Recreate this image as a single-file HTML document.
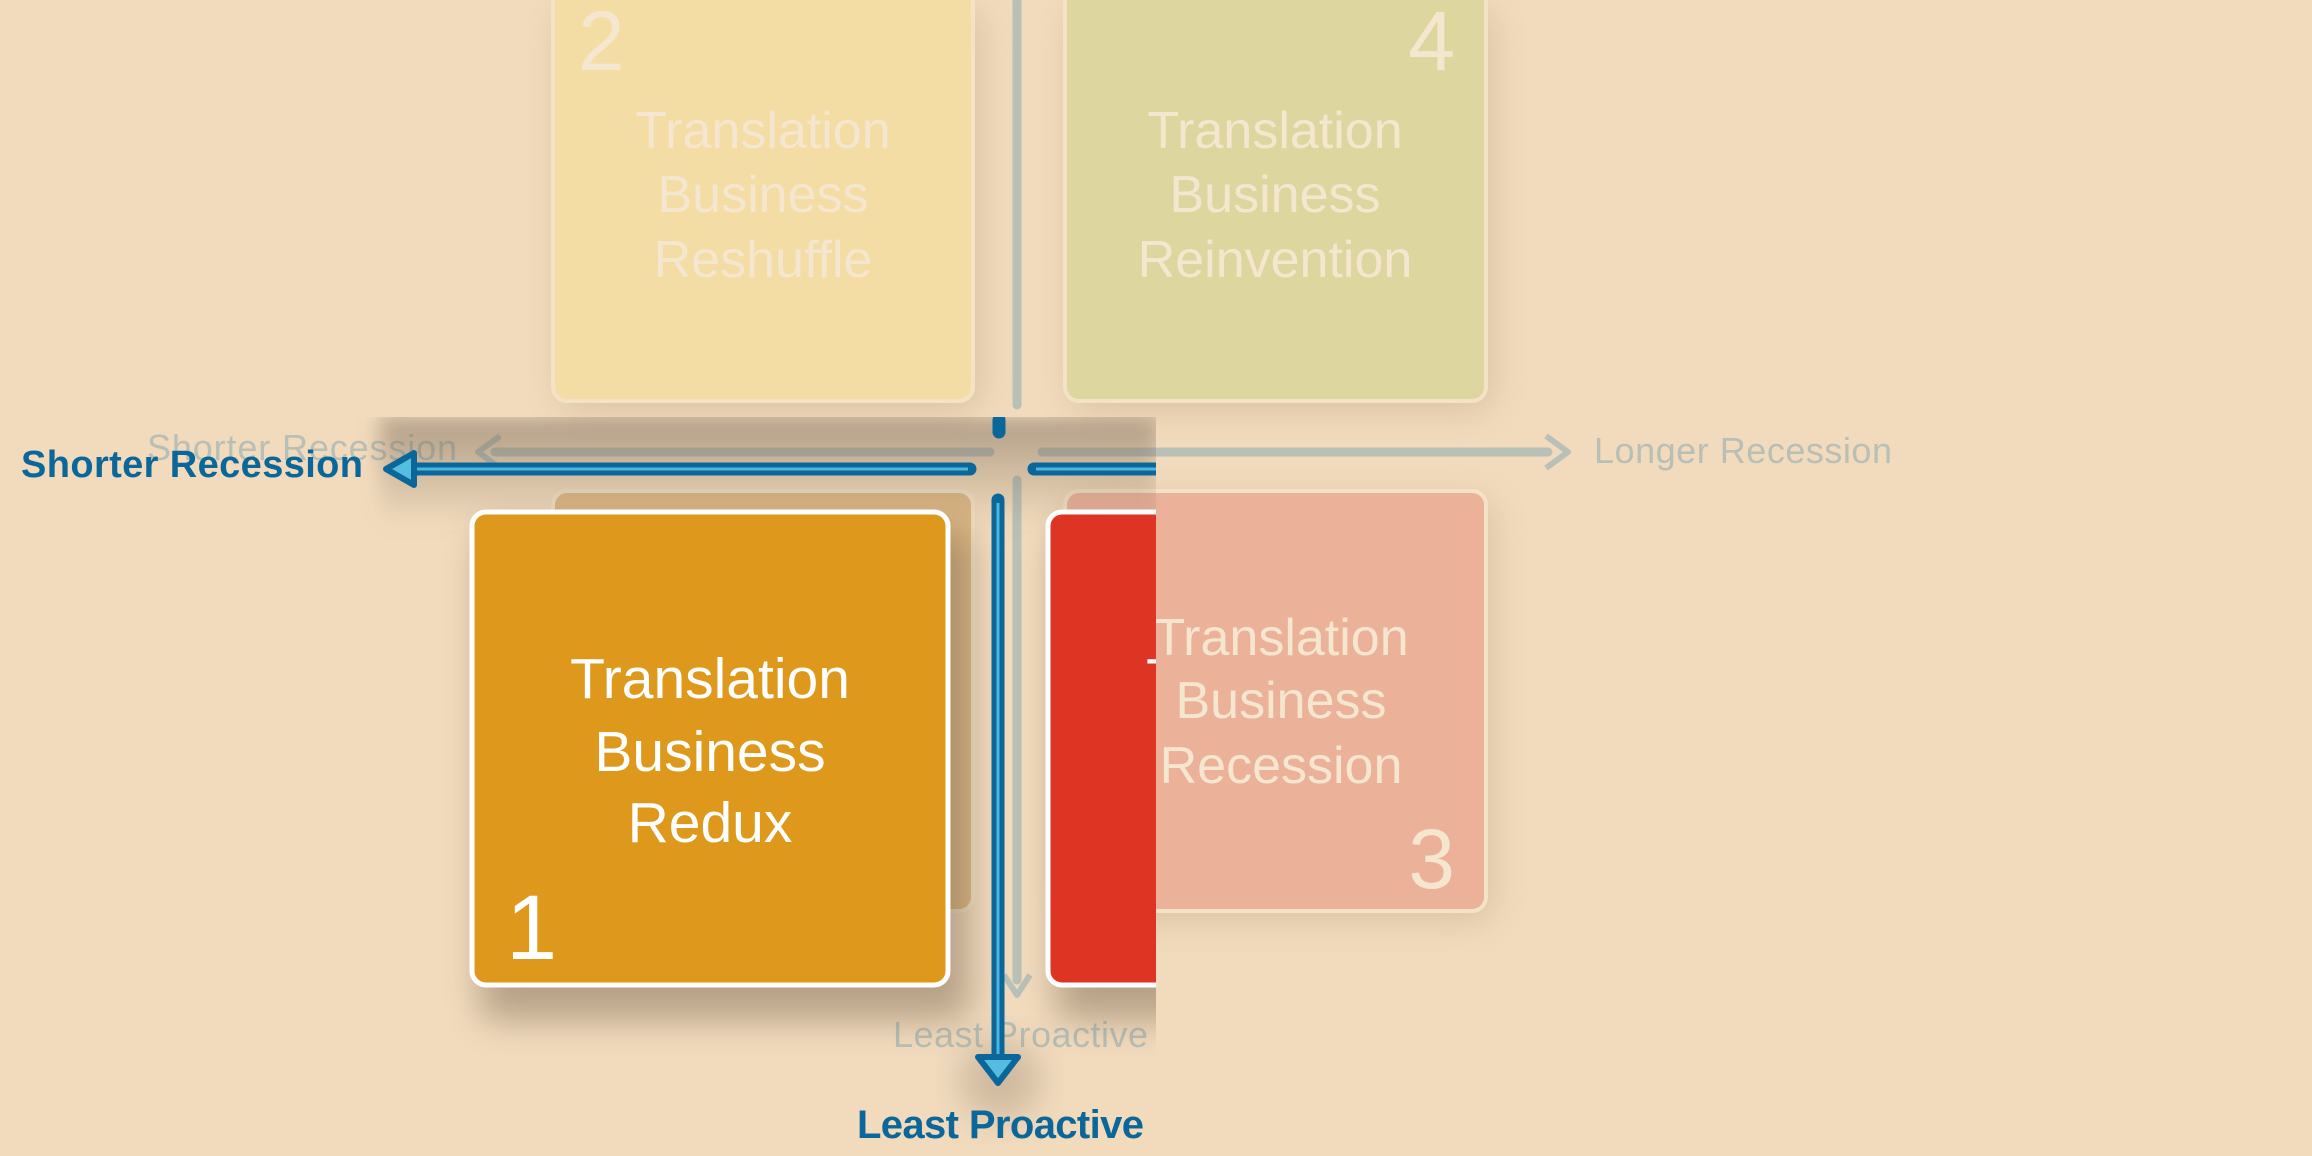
<!DOCTYPE html>
<html><head><meta charset="utf-8"><style>
html,body{margin:0;padding:0;background:#f2dbbd;}
svg{display:block;}
text{font-family:"Liberation Sans",sans-serif;}
</style></head><body>
<svg width="2312" height="1156" viewBox="0 0 2312 1156" xmlns="http://www.w3.org/2000/svg">
<defs>
<filter id="bl" x="-30%" y="-30%" width="160%" height="160%"><feGaussianBlur stdDeviation="18"/></filter>
<filter id="bl2" x="-30%" y="-30%" width="160%" height="160%"><feGaussianBlur stdDeviation="10"/></filter>
<clipPath id="fg"><rect x="0" y="417" width="1156" height="739"/></clipPath>
<linearGradient id="topsh" x1="0" y1="0" x2="0" y2="1">
<stop offset="0" stop-color="#7a6a58" stop-opacity="0.55"/><stop offset="1" stop-color="#7a6a58" stop-opacity="0"/></linearGradient>
</defs>
<rect width="2312" height="1156" fill="#f2dbbd"/>
<!-- faded layer shadows -->
<rect x="560" y="10" width="420" height="400" rx="14" fill="#b9a080" opacity="0.45" filter="url(#bl)"/>
<rect x="1072" y="10" width="420" height="400" rx="14" fill="#b9a080" opacity="0.45" filter="url(#bl)"/>
<rect x="1072" y="500" width="420" height="420" rx="14" fill="#b9a080" opacity="0.45" filter="url(#bl)"/>
<!-- faded boxes -->
<rect x="553" y="-20" width="420" height="421" rx="14" fill="#f4dca5" stroke="#f3e2c6" stroke-width="4"/>
<rect x="1065" y="-20" width="421" height="421" rx="14" fill="#ddd69e" stroke="#f3e2c6" stroke-width="4"/>
<rect x="553" y="491" width="420" height="420" rx="14" fill="#dfb985" stroke="#f3e2c6" stroke-width="4"/>
<rect x="1065" y="491" width="421" height="420" rx="14" fill="#ecb199" stroke="#f3e2c6" stroke-width="4"/>
<g fill="#f5e6cf" font-size="52" text-anchor="middle">
<text x="763" y="148">Translation</text><text x="763" y="212">Business</text><text x="763" y="277">Reshuffle</text>
<text x="1275" y="148">Translation</text><text x="1275" y="212">Business</text><text x="1275" y="277">Reinvention</text>
<text x="1281" y="655">Translation</text><text x="1281" y="718">Business</text><text x="1281" y="783">Recession</text>
</g>
<g fill="#f5e6cf" font-size="84">
<text x="578" y="70">2</text>
<text x="1455" y="70" text-anchor="end">4</text>
<text x="1455" y="888" text-anchor="end">3</text>
</g>
<!-- faded arrows -->
<g stroke="#b8c0b8" fill="none" stroke-width="9" stroke-linecap="round">
<line x1="1017" y1="0" x2="1017" y2="405"/>
<line x1="1017" y1="480" x2="1017" y2="980"/>
<line x1="495" y1="452" x2="990" y2="452"/>
<line x1="1042" y1="452" x2="1548" y2="452"/>
</g>
<g stroke="#b8c0b8" fill="none" stroke-width="6" stroke-linejoin="round">
<polyline points="500,436 478,452 500,468"/>
<polyline points="1546,436 1568,452 1546,468"/>
<polyline points="1004,975 1017,995 1030,975"/>
</g>
<g fill="#b7bfb7" font-size="36">
<text x="147" y="460" textLength="310">Shorter Recession</text>
<text x="1594" y="463" textLength="298">Longer Recession</text>
<text x="893" y="1047" textLength="255">Least Proactive</text>
</g>
<!-- foreground -->
<g clip-path="url(#fg)">
<rect x="380" y="417" width="780" height="110" fill="url(#topsh)" filter="url(#bl2)"/>
<rect x="480" y="530" width="490" height="490" rx="14" fill="#6d5a45" opacity="0.45" filter="url(#bl)"/>
<rect x="1056" y="530" width="490" height="490" rx="14" fill="#6d5a45" opacity="0.45" filter="url(#bl)"/>
<circle cx="1000" cy="1080" r="40" fill="#8a7a66" opacity="0.35" filter="url(#bl)"/>
<rect x="472" y="512" width="476" height="473" rx="14" fill="#de991c" stroke="#ffffff" stroke-width="5"/>
<rect x="1048" y="512" width="476" height="473" rx="14" fill="#de3424" stroke="#ffffff" stroke-width="5"/>
<g fill="#ffffff" font-size="57" text-anchor="middle">
<text x="710" y="698">Translation</text><text x="710" y="771">Business</text><text x="710" y="842">Redux</text>
<text x="1286" y="698">Translation</text><text x="1286" y="771">Business</text><text x="1286" y="842">Recession</text>
</g>
<text x="506" y="959" fill="#ffffff" font-size="92">1</text>
<!-- blue arrows -->
<g stroke="#0b679a" stroke-width="13" stroke-linecap="round" fill="none">
<line x1="410" y1="469" x2="970" y2="469"/>
<line x1="1034" y1="469" x2="1160" y2="469"/>
<line x1="999" y1="420" x2="999" y2="432"/>
<line x1="998" y1="500" x2="998" y2="1060"/>
</g>
<g stroke="#4fb5dc" stroke-width="3" fill="none">
<line x1="412" y1="469" x2="968" y2="469"/>
<line x1="1036" y1="469" x2="1160" y2="469"/>
<line x1="998" y1="503" x2="998" y2="1058"/>
</g>
<polygon points="386,469 414,453 414,485" fill="#55bde0" stroke="#0b679a" stroke-width="6" stroke-linejoin="round"/>
<polygon points="998,1083 978,1057 1018,1057" fill="#55bde0" stroke="#0b679a" stroke-width="6" stroke-linejoin="round"/>
<text x="857" y="1138" fill="#0b679a" font-size="40" font-weight="bold" textLength="287">Least Proactive</text>
</g>
<text x="21" y="477" fill="#0b679a" font-size="38" font-weight="bold" textLength="342">Shorter Recession</text>
</svg>
</body></html>
